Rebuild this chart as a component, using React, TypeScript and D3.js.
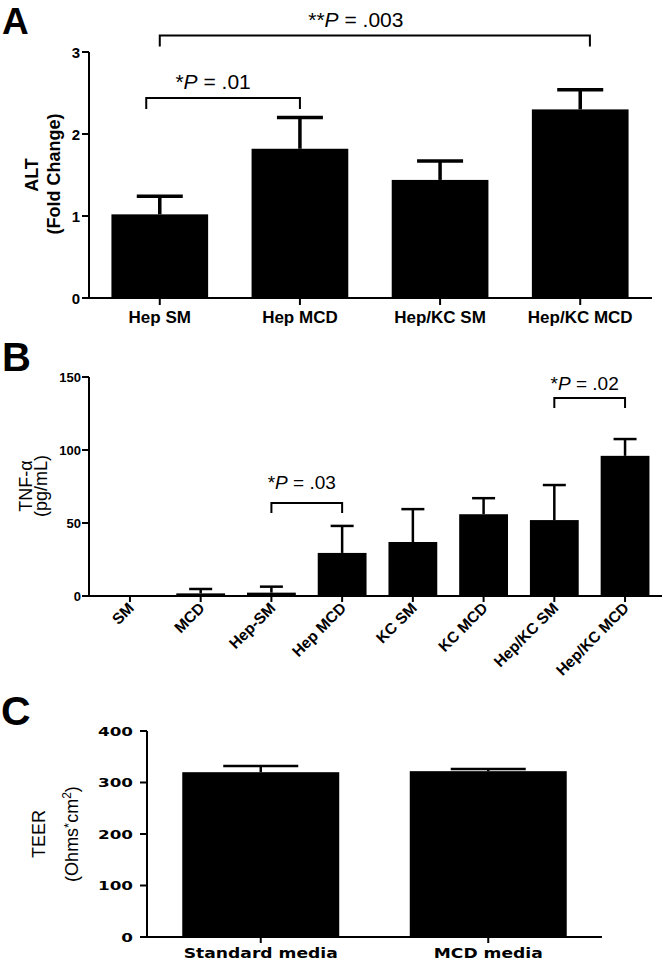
import React from "react";
import * as d3 from "d3";

// ---------- DATA ----------
const catsA = ["Hep SM", "Hep MCD", "Hep/KC SM", "Hep/KC MCD"];
const meanA = [1.02, 1.82, 1.44, 2.3];
const semA = [0.22, 0.38, 0.23, 0.24];
const ticksA = [0, 1, 2, 3];
const bracketsA = [
  { from: "Hep SM", to: "Hep MCD", level: 2.44, stars: "*", p: " = .01" },
  { from: "Hep SM", to: "Hep/KC MCD", level: 3.2, stars: "**", p: " = .003" },
];

const catsB = ["SM", "MCD", "Hep-SM", "Hep MCD", "KC SM", "KC MCD", "Hep/KC SM", "Hep/KC MCD"];
const meanB = [0, 1.8, 2.3, 29.5, 37, 56, 52, 96];
const semB = [0, 3, 4.1, 18.5, 22.5, 11, 24, 11.5];
const ticksB = [0, 50, 100, 150];
const bracketsB = [
  { from: "Hep-SM", to: "Hep MCD", level: 63.7, stars: "*", p: " = .03" },
  { from: "Hep/KC SM", to: "Hep/KC MCD", level: 135.6, stars: "*", p: " = .02" },
];

const catsC = ["Standard media", "MCD media"];
const meanC = [320, 322];
const semC = [12, 4];
const ticksC = [0, 100, 200, 300, 400];

// ---------- LAYOUT / STYLE ----------
const ARIAL = "'Liberation Sans', Arial, Helvetica, sans-serif";
const DEJAVU = "'DejaVu Sans', Verdana, sans-serif";
const bracketLayoutA = [
  { leftFrac: 0.36, rightFrac: 0.5, dx: -10, gap: 9 },
  { leftFrac: 0.5, rightFrac: 0.6, dx: -19, gap: 9 },
];
const bracketLayoutB = [
  { leftFrac: 0.5, rightFrac: 0.5, dx: -5, gap: 14 },
  { leftFrac: 0.5, rightFrac: 0.5, dx: -5, gap: 8 },
];

function PanelA() {
  const x = d3.scaleBand<string>().domain(catsA).range([89, 651]).paddingInner(0.31).paddingOuter(0.16);
  const y = d3.scaleLinear().domain([0, 3]).range([298, 52]);
  const bw = x.bandwidth();
  return (
    <g fontFamily={ARIAL}>
      <text x={2} y={34} fontSize={37} fontWeight="bold">A</text>
      {catsA.map((c, i) => {
        const cx = x(c)! + bw / 2;
        const top = y(meanA[i] + semA[i]);
        return (
          <g key={c}>
            <line x1={cx} x2={cx} y1={y(meanA[i])} y2={top} stroke="#000" strokeWidth={3.5} />
            <line x1={cx - 23} x2={cx + 23} y1={top} y2={top} stroke="#000" strokeWidth={3.5} />
            <rect x={x(c)} y={y(meanA[i])} width={bw} height={y(0) - y(meanA[i])} fill="#000" />
          </g>
        );
      })}
      <line x1={89} x2={89} y1={y(3)} y2={y(0)} stroke="#000" strokeWidth={2} />
      <line x1={88} x2={652} y1={y(0)} y2={y(0)} stroke="#000" strokeWidth={2} />
      {ticksA.map((t) => (
        <g key={t}>
          <line x1={82} x2={89} y1={y(t)} y2={y(t)} stroke="#000" strokeWidth={2} />
          <text x={80} y={y(t) + 5.5} fontSize={15} fontWeight="bold" textAnchor="end">{t}</text>
        </g>
      ))}
      {catsA.map((c) => {
        const cx = x(c)! + bw / 2;
        return (
          <g key={c}>
            <line x1={cx} x2={cx} y1={y(0)} y2={y(0) + 7} stroke="#000" strokeWidth={2} />
            <text x={cx} y={323} fontSize={17} fontWeight="bold" textAnchor="middle">{c}</text>
          </g>
        );
      })}
      <text transform="translate(38,175) rotate(-90)" fontSize={18} fontWeight="bold" textAnchor="middle">ALT</text>
      <text transform="translate(60,174) rotate(-90)" fontSize={18} fontWeight="bold" textAnchor="middle">(Fold Change)</text>
      {bracketsA.map((b, i) => {
        const L = bracketLayoutA[i];
        const x1 = x(b.from)! + bw * L.leftFrac;
        const x2 = x(b.to)! + bw * L.rightFrac;
        const yy = y(b.level);
        return (
          <g key={i}>
            <path d={`M${x1},${yy + 11}V${yy}H${x2}V${yy + 11}`} fill="none" stroke="#000" strokeWidth={2} />
            <text x={(x1 + x2) / 2 + L.dx} y={yy - L.gap} fontSize={21} textAnchor="middle">
              {b.stars}<tspan fontStyle="italic">P</tspan>{b.p}
            </text>
          </g>
        );
      })}
    </g>
  );
}

function PanelB() {
  const x = d3.scaleBand<string>().domain(catsB).range([89, 666]).paddingInner(0.31).paddingOuter(0.234);
  const y = d3.scaleLinear().domain([0, 150]).range([596, 377]);
  const bw = x.bandwidth();
  return (
    <g fontFamily={ARIAL}>
      <text x={2} y={371} fontSize={40} fontWeight="bold">B</text>
      {catsB.map((c, i) => {
        const cx = x(c)! + bw / 2;
        const top = y(meanB[i] + semB[i]);
        return (
          <g key={c}>
            {semB[i] > 0 && (
              <>
                <line x1={cx} x2={cx} y1={y(meanB[i])} y2={top} stroke="#000" strokeWidth={2.5} />
                <line x1={cx - 11.5} x2={cx + 11.5} y1={top} y2={top} stroke="#000" strokeWidth={2.5} />
              </>
            )}
            {meanB[i] > 0 && (
              <rect x={x(c)} y={y(meanB[i])} width={bw} height={y(0) - y(meanB[i])} fill="#000" />
            )}
          </g>
        );
      })}
      <line x1={89} x2={89} y1={y(150)} y2={y(0)} stroke="#000" strokeWidth={2} />
      <line x1={88} x2={662} y1={y(0)} y2={y(0)} stroke="#000" strokeWidth={2} />
      {ticksB.map((t) => (
        <g key={t}>
          <line x1={82} x2={89} y1={y(t)} y2={y(t)} stroke="#000" strokeWidth={2} />
          <text x={81} y={y(t) + 4.5} fontSize={13} fontWeight="bold" textAnchor="end">{t}</text>
        </g>
      ))}
      {catsB.map((c) => {
        const cx = x(c)! + bw / 2;
        return (
          <g key={c}>
            <line x1={cx} x2={cx} y1={y(0)} y2={y(0) + 6} stroke="#000" strokeWidth={2} />
            <text transform={`translate(${cx + 5},${y(0) + 13}) rotate(-45)`} fontSize={15.5} fontWeight="bold" textAnchor="end">{c}</text>
          </g>
        );
      })}
      <text transform="translate(32,486) rotate(-90)" fontSize={18} fontWeight={500} textAnchor="middle">TNF-α</text>
      <text transform="translate(47,486) rotate(-90)" fontSize={18} fontWeight={500} textAnchor="middle">(pg/mL)</text>
      {bracketsB.map((b, i) => {
        const L = bracketLayoutB[i];
        const x1 = x(b.from)! + bw * L.leftFrac;
        const x2 = x(b.to)! + bw * L.rightFrac;
        const yy = y(b.level);
        return (
          <g key={i}>
            <path d={`M${x1},${yy + 10}V${yy}H${x2}V${yy + 10}`} fill="none" stroke="#000" strokeWidth={2} />
            <text x={(x1 + x2) / 2 + L.dx} y={yy - L.gap} fontSize={19} textAnchor="middle">
              {b.stars}<tspan fontStyle="italic">P</tspan>{b.p}
            </text>
          </g>
        );
      })}
    </g>
  );
}

function PanelC() {
  const x = d3.scaleBand<string>().domain(catsC).range([147, 602]).paddingInner(0.31).paddingOuter(0.155);
  const y = d3.scaleLinear().domain([0, 400]).range([937, 731]);
  const bw = x.bandwidth();
  return (
    <g>
      <text x={1} y={725} fontSize={41} fontWeight="bold" fontFamily={ARIAL}>C</text>
      {catsC.map((c, i) => {
        const cx = x(c)! + bw / 2;
        const top = y(meanC[i] + semC[i]);
        return (
          <g key={c}>
            <line x1={cx} x2={cx} y1={y(meanC[i])} y2={top} stroke="#000" strokeWidth={2.5} />
            <line x1={cx - 37.5} x2={cx + 37.5} y1={top} y2={top} stroke="#000" strokeWidth={2.5} />
            <rect x={x(c)} y={y(meanC[i])} width={bw} height={y(0) - y(meanC[i])} fill="#000" />
          </g>
        );
      })}
      <line x1={147} x2={147} y1={y(400)} y2={y(0)} stroke="#000" strokeWidth={2} />
      <line x1={146} x2={602} y1={y(0)} y2={y(0)} stroke="#000" strokeWidth={2} />
      {ticksC.map((t) => (
        <g key={t}>
          <line x1={140} x2={147} y1={y(t)} y2={y(t)} stroke="#000" strokeWidth={2} />
          <text transform={`translate(133,${y(t) + 4.5}) scale(1.4,1)`} fontSize={12} fontWeight="bold" fontFamily={DEJAVU} textAnchor="end">{t}</text>
        </g>
      ))}
      {catsC.map((c) => {
        const cx = x(c)! + bw / 2;
        return (
          <g key={c}>
            <line x1={cx} x2={cx} y1={y(0)} y2={y(0) + 6} stroke="#000" strokeWidth={2} />
            <text transform={`translate(${cx},958) scale(1.27,1)`} fontSize={13.5} fontWeight="bold" fontFamily={DEJAVU} textAnchor="middle">{c}</text>
          </g>
        );
      })}
      <text transform="translate(45,834) rotate(-90)" fontSize={18} fill="#000" fontFamily={ARIAL} textAnchor="middle">TEER</text>
      <text transform="translate(78,834) rotate(-90)" fontSize={18} fill="#000" fontFamily={ARIAL} textAnchor="middle">
        (Ohms<tspan fontSize={13} dy={-5}>*</tspan><tspan dy={5}>cm</tspan><tspan fontSize={12} dy={-7}>2</tspan><tspan dy={7}>)</tspan>
      </text>
    </g>
  );
}

export default function App() {
  return (
    <svg width={664} height={962} style={{ position: "absolute", left: 0, top: 0, background: "#fff" }}>
      <rect width={664} height={962} fill="#fff" />
      <PanelA />
      <PanelB />
      <PanelC />
    </svg>
  );
}
